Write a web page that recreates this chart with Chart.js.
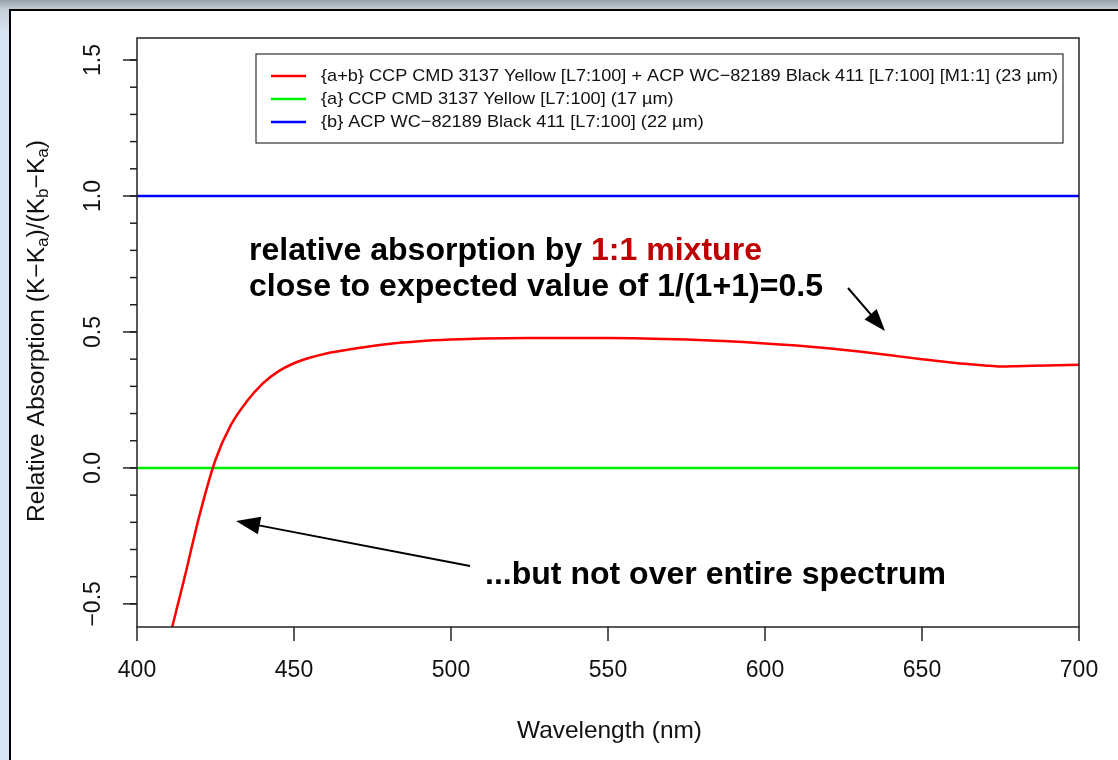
<!DOCTYPE html>
<html>
<head>
<meta charset="utf-8">
<script src="https://cdn.jsdelivr.net/npm/chart.js@4.4.0/dist/chart.umd.min.js"></script>
<style>
    html, body { margin: 0; padding: 0; }
    body {
        width: 1118px; height: 760px; overflow: hidden; position: relative;
        background: linear-gradient(180deg, #98a1ab 0px, #c4ccd6 9px, #d8e3f1 30px, #dae5f4 100%);
    }
    #painel {
        position: absolute; left: 9px; top: 9px; width: 1200px; height: 800px;
        background: #fff; border-left: 2px solid #000; border-top: 2px solid #000;
    }
    #caixa { position: absolute; left: 0; top: 0; width: 1118px; height: 760px; }
</style>
</head>
<body>
<div id="painel"></div>
<div id="caixa"><canvas id="grafico"></canvas></div>
<script>
// dados
const comprimentos = [400, 405, 410, 415, 420, 425, 430, 435, 440, 445, 450, 455, 460, 470, 480, 490, 500,
    510, 525, 550, 575, 600, 610, 620, 630, 640, 650, 660, 670, 675, 680, 690, 700];
const absMistura = [-1.10, -0.87, -0.64, -0.41, -0.17, 0.03, 0.16, 0.245, 0.31, 0.355, 0.385, 0.405, 0.42,
    0.44, 0.456, 0.466, 0.472, 0.476, 0.478, 0.478, 0.472, 0.458, 0.45, 0.44, 0.428, 0.414, 0.40, 0.387,
    0.377, 0.373, 0.374, 0.377, 0.379];
const extremos = [400, 700];
const absAmarelo = [0, 0];
const absPreto = [1, 1];

const nomesSeries = [
    '{a+b} CCP CMD 3137 Yellow [L7:100] + ACP WC\u221282189 Black 411 [L7:100] [M1:1] (23 \u00b5m)',
    '{a} CCP CMD 3137 Yellow [L7:100] (17 \u00b5m)',
    '{b} ACP WC\u221282189 Black 411 [L7:100] (22 \u00b5m)'
];
const coresSeries = ['#ff0000', '#00ee00', '#0000ff'];

const xTicks = [400, 450, 500, 550, 600, 650, 700];
const yTicks = [-0.5, 0, 0.5, 1.0, 1.5];
const yTickLabels = ['\u22120.5', '0.0', '0.5', '1.0', '1.5'];

const FONTE = '"Liberation Sans", Arial, Helvetica, sans-serif';

function pares(xs, ys) {
    return xs.map((x, i) => ({ x: x, y: ys[i] }));
}

function linha(ctx, x1, y1, x2, y2) {
    ctx.beginPath();
    ctx.moveTo(x1, y1);
    ctx.lineTo(x2, y2);
    ctx.stroke();
}

// escreve texto esticado/apertado na horizontal ate a largura desejada
function textoAjustado(ctx, texto, x, y, largura) {
    const w = ctx.measureText(texto).width;
    ctx.save();
    ctx.translate(x, y);
    ctx.scale(largura / w, 1);
    ctx.fillText(texto, 0, 0);
    ctx.restore();
}

function seta(ctx, x1, y1, x2, y2, comp, meia) {
    const ang = Math.atan2(y2 - y1, x2 - x1);
    ctx.lineWidth = 2;
    linha(ctx, x1, y1, x2 - Math.cos(ang) * comp * 0.8, y2 - Math.sin(ang) * comp * 0.8);
    ctx.beginPath();
    ctx.moveTo(x2, y2);
    ctx.lineTo(x2 - Math.cos(ang) * comp - Math.sin(ang) * meia, y2 - Math.sin(ang) * comp + Math.cos(ang) * meia);
    ctx.lineTo(x2 - Math.cos(ang) * comp + Math.sin(ang) * meia, y2 - Math.sin(ang) * comp - Math.cos(ang) * meia);
    ctx.closePath();
    ctx.fill();
}

const decoracao = {
    id: 'decoracao',
    afterDraw(chart) {
        const ctx = chart.ctx;
        const area = chart.chartArea;
        const sx = chart.scales.x;
        const sy = chart.scales.y;
        ctx.save();

        // caixa do grafico
        ctx.strokeStyle = '#222';
        ctx.lineWidth = 1.5;
        ctx.strokeRect(area.left, area.top, area.right - area.left, area.bottom - area.top);

        // eixo x
        ctx.fillStyle = '#111';
        ctx.font = '23px ' + FONTE;
        ctx.textAlign = 'center';
        ctx.textBaseline = 'middle';
        xTicks.forEach(v => {
            const px = sx.getPixelForValue(v);
            linha(ctx, px, area.bottom, px, area.bottom + 14);
            ctx.fillText(String(v), px, 671);
        });

        // eixo y, ticks menores de 0.1
        for (let i = -5; i <= 15; i++) {
            const py = sy.getPixelForValue(i / 10);
            linha(ctx, area.left - 7, py, area.left, py);
        }
        yTicks.forEach((v, i) => {
            const py = sy.getPixelForValue(v);
            linha(ctx, area.left - 14, py, area.left, py);
            ctx.save();
            ctx.translate(94, py);
            ctx.rotate(-Math.PI / 2);
            ctx.fillText(yTickLabels[i], 0, 0);
            ctx.restore();
        });

        // titulo x
        ctx.textAlign = 'left';
        ctx.font = '24px ' + FONTE;
        textoAjustado(ctx, 'Wavelength (nm)', 517, 731, 185);

        // titulo y com subscritos
        const partes = [
            ['Relative Absorption (K\u2212K', false], ['a', true], [')/(K', false], ['b', true],
            ['\u2212K', false], ['a', true], [')', false]
        ];
        const fNormal = '23px ' + FONTE;
        const fSub = '16px ' + FONTE;
        let total = 0;
        partes.forEach(p => {
            ctx.font = p[1] ? fSub : fNormal;
            total += ctx.measureText(p[0]).width;
        });
        ctx.save();
        ctx.translate(38, 522);
        ctx.rotate(-Math.PI / 2);
        ctx.scale(382 / total, 1);
        let pos = 0;
        partes.forEach(p => {
            ctx.font = p[1] ? fSub : fNormal;
            ctx.fillText(p[0], pos, p[1] ? 6 : 0);
            pos += ctx.measureText(p[0]).width;
        });
        ctx.restore();

        // legenda
        ctx.fillStyle = '#fff';
        ctx.fillRect(256, 54, 807, 89);
        ctx.strokeStyle = '#333';
        ctx.lineWidth = 1.2;
        ctx.strokeRect(256, 54, 807, 89);
        ctx.font = '17px ' + FONTE;
        const escala = 737 / ctx.measureText(nomesSeries[0]).width;
        const ysLeg = [76, 99, 122];
        chart.data.datasets.forEach((ds, i) => {
            ctx.strokeStyle = ds.borderColor;
            ctx.lineWidth = 2.5;
            linha(ctx, 271, ysLeg[i], 306, ysLeg[i]);
            ctx.fillStyle = '#111';
            const w = ctx.measureText(nomesSeries[i]).width;
            textoAjustado(ctx, nomesSeries[i], 321, ysLeg[i], w * escala);
        });

        // anotacoes
        ctx.font = 'bold 31px ' + FONTE;
        ctx.textBaseline = 'alphabetic';
        const p1 = 'relative absorption by ';
        const p2 = '1:1 mixture';
        const w1 = ctx.measureText(p1).width;
        const w2 = ctx.measureText(p2).width;
        const k = 513 / (w1 + w2);
        ctx.fillStyle = '#000';
        textoAjustado(ctx, p1, 249, 260, w1 * k);
        ctx.fillStyle = '#c00000';
        textoAjustado(ctx, p2, 249 + w1 * k, 260, w2 * k);
        ctx.fillStyle = '#000';
        textoAjustado(ctx, 'close to expected value of 1/(1+1)=0.5', 249, 296, 574);
        textoAjustado(ctx, '...but not over entire spectrum', 485, 584, 461);

        ctx.strokeStyle = '#000';
        ctx.fillStyle = '#000';
        seta(ctx, 470, 566, 236, 521, 24, 9);
        seta(ctx, 848, 288, 885, 331, 22, 8);

        ctx.restore();
    }
};

const ctxGrafico = document.getElementById('grafico').getContext('2d');
const valoresSeries = [pares(comprimentos, absMistura), pares(extremos, absAmarelo), pares(extremos, absPreto)];

new Chart(ctxGrafico, {
    type: 'line',
    data: {
        datasets: valoresSeries.map((d, i) => ({
            label: nomesSeries[i],
            data: d,
            borderColor: coresSeries[i],
            borderWidth: 2.5,
            pointRadius: 0,
            fill: false,
            cubicInterpolationMode: 'monotone'
        }))
    },
    options: {
        responsive: true,
        maintainAspectRatio: false,
        animation: false,
        layout: { padding: { left: 137, top: 38, right: 39, bottom: 133 } },
        plugins: {
            legend: { display: false },
            tooltip: { enabled: false }
        },
        scales: {
            x: { type: 'linear', min: 400, max: 700, display: false },
            y: { type: 'linear', min: -0.585, max: 1.581, display: false }
        }
    },
    plugins: [decoracao]
});
</script>
</body>
</html>
